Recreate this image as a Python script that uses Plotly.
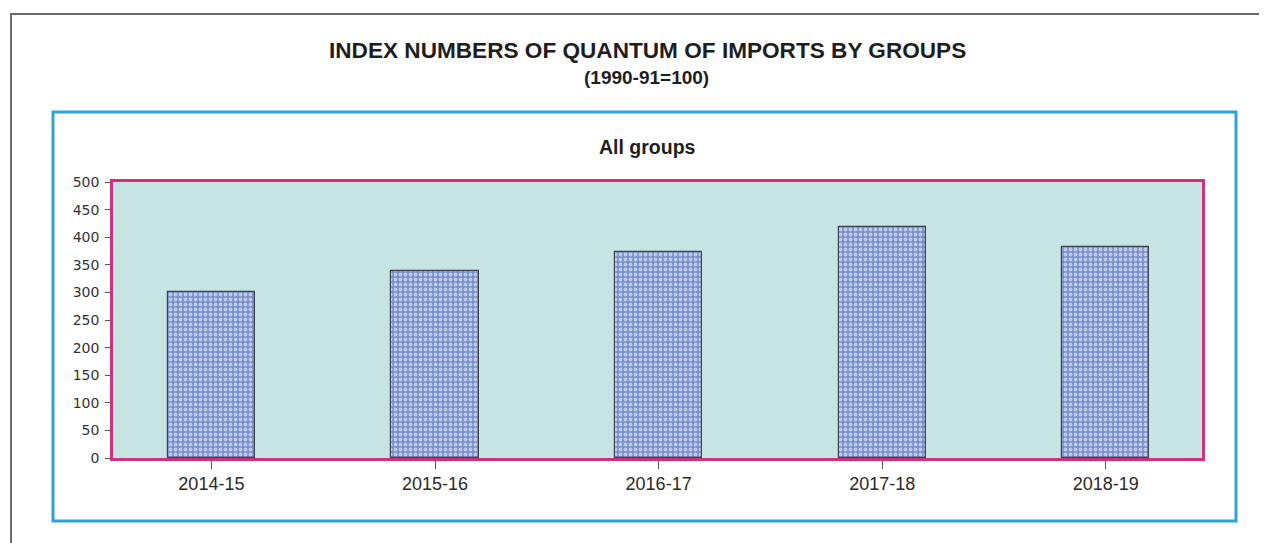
import plotly.graph_objects as go

categories = ["2014-15", "2015-16", "2016-17", "2017-18", "2018-19"]
values = [301, 339, 373, 418, 382]
y_ticks = [0, 50, 100, 150, 200, 250, 300, 350, 400, 450, 500]

title_line1 = "INDEX NUMBERS OF QUANTUM OF IMPORTS BY GROUPS"
title_line2 = "(1990-91=100)"
subtitle = "All groups"

# page body has an 8px margin; work in page pixels and convert
OFF = 8
L, R, T, B = 113, 1202, 182, 458
W, H = 1267, 543
pw, ph = R - L, B - T


def px(x):
    return (x - L) / pw


def py(y):
    return (B - y) / ph


fig = go.Figure()
fig.add_trace(go.Bar(
    x=list(range(len(categories))),
    y=values,
    width=0.39,
    marker=dict(
        color="#7689c4",
        line=dict(color="#3c4050", width=1.2),
        pattern=dict(shape=".", fgcolor="#bfcaea", bgcolor="#7890c8",
                     size=5, solidity=0.45, fillmode="replace"),
    ),
    hoverinfo="x+y",
))

shapes = [
    dict(type="rect", xref="paper", yref="paper",
         x0=px(11), x1=px(1300), y0=py(580), y1=py(14),
         line=dict(color="#6a6a6a", width=2), layer="below"),
    dict(type="rect", xref="paper", yref="paper",
         x0=px(53), x1=px(1236), y0=py(521), y1=py(112),
         line=dict(color="#2fa2d8", width=3), layer="below"),
]

annotations = [
    dict(text="<b>" + title_line1 + "</b>", xref="paper", yref="paper",
         x=px(647), y=py(50), xanchor="center", yanchor="middle",
         showarrow=False, font=dict(family="Liberation Sans", size=22.6, color="#1e1e1e")),
    dict(text="<b>" + title_line2 + "</b>", xref="paper", yref="paper",
         x=px(646), y=py(77), xanchor="center", yanchor="middle",
         showarrow=False, font=dict(family="Liberation Sans", size=19, color="#1e1e1e")),
    dict(text="<b>" + subtitle + "</b>", xref="paper", yref="paper",
         x=px(647), y=py(147), xanchor="center", yanchor="middle",
         showarrow=False, font=dict(family="Liberation Sans", size=19.5, color="#1e1e1e")),
]

fig.update_layout(
    width=W - OFF, height=H - OFF,
    margin=dict(l=L - OFF, r=W - R, t=T - OFF, b=H - B, pad=0),
    paper_bgcolor="white",
    plot_bgcolor="#c5e4e2",
    showlegend=False,
    bargap=0,
    shapes=shapes,
    annotations=annotations,
    xaxis=dict(
        tickmode="array",
        tickvals=list(range(len(categories))),
        ticktext=categories,
        range=[-0.44, 4.43],
        showline=True, mirror=True, linecolor="#d2307c", linewidth=2.5,
        ticks="outside", ticklen=8, tickcolor="#555555", tickwidth=1,
        tickfont=dict(family="Liberation Sans", size=18, color="#2a2a2a"),
        showgrid=False, zeroline=False,
    ),
    yaxis=dict(
        tickmode="array",
        tickvals=y_ticks,
        ticktext=[str(v) for v in y_ticks],
        range=[0, 500],
        showline=True, mirror=True, linecolor="#d2307c", linewidth=2.5,
        ticks="outside", ticklen=5, tickcolor="#555555", tickwidth=1,
        tickfont=dict(family="DejaVu Sans", size=14, color="#333333"),
        showgrid=False, zeroline=False,
        ticklabelstandoff=3,
    ),
)

fig.write_html("out.html")
